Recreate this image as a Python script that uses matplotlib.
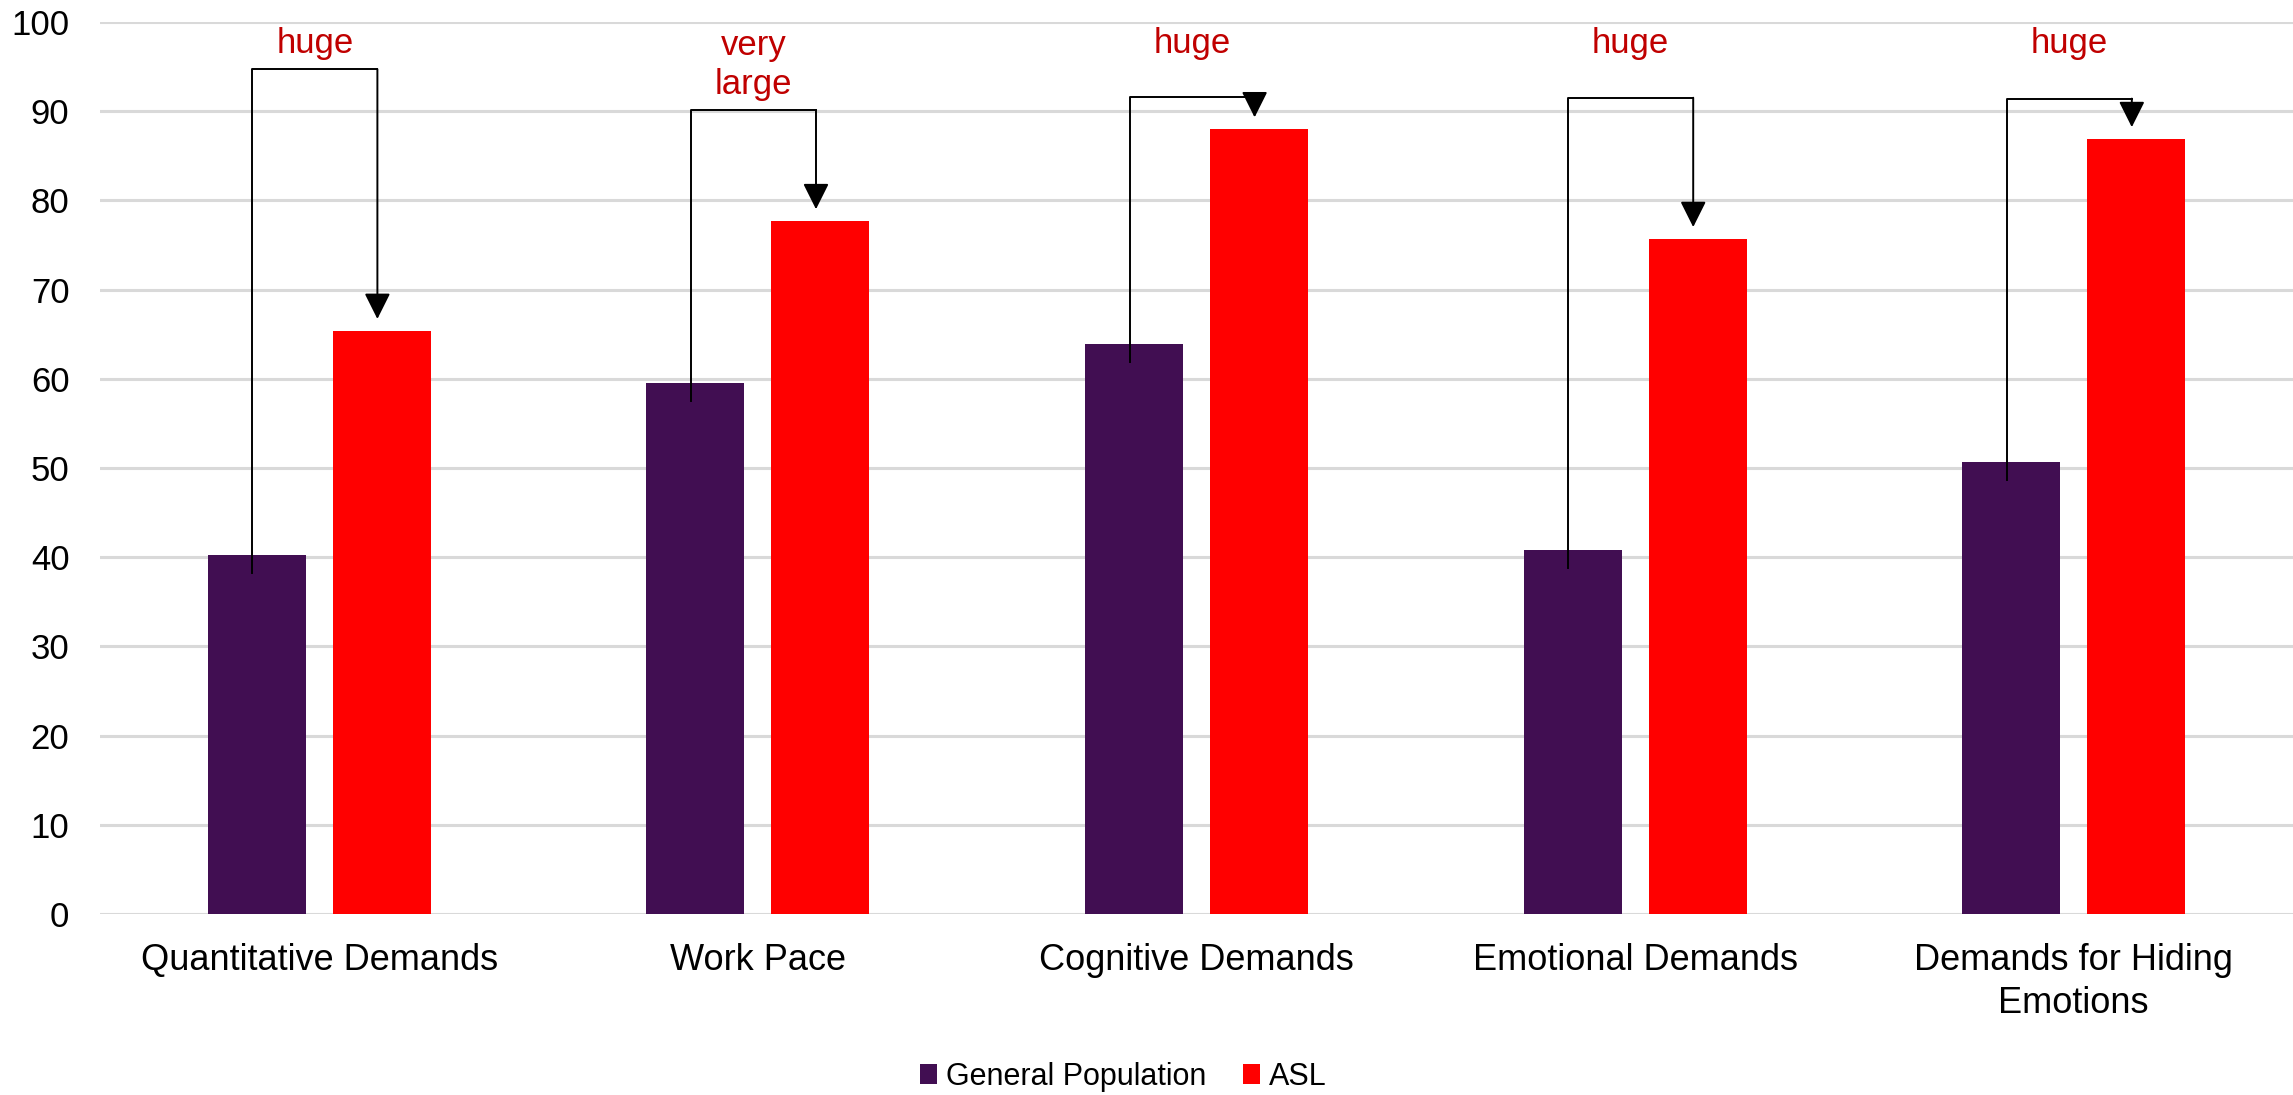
import matplotlib.pyplot as plt
import numpy as np

# data
categories = ["Quantitative Demands", "Work Pace", "Cognitive Demands",
              "Emotional Demands", "Demands for Hiding\nEmotions"]
general_pop = [40.2, 59.5, 63.9, 40.8, 50.7]
asl = [65.4, 77.7, 88.0, 75.7, 86.9]
effect_labels = ["huge", "very\nlarge", "huge", "huge", "huge"]
bracket_tops = [94.7, 90.1, 91.6, 91.5, 91.4]
label_y = [97.6, 95.2, 97.6, 97.6, 97.6]

plt.rcParams['font.family'] = ['Liberation Sans', 'DejaVu Sans']

fig = plt.figure(figsize=(22.93, 10.95), dpi=100)
ax = fig.add_axes([0.0436, 0.1653, 0.9564, 0.8147])

x = np.arange(len(categories))
w = 0.2235
off = 0.1425
ax.bar(x - off, general_pop, w, color='#410E52', label='General Population', zorder=2)
ax.bar(x + off, asl, w, color='#FF0000', label='ASL', zorder=2)

# brackets with arrows
for i in range(len(categories)):
    x0, x1 = x[i] - off - 0.01, x[i] + off - 0.01
    top = bracket_tops[i]
    ax.plot([x0, x0, x1], [general_pop[i] - 2, top, top], color='black', lw=1.4, zorder=3)
    ax.annotate('', xy=(x1, asl[i] + 1.3), xytext=(x1, top),
                arrowprops=dict(arrowstyle='-|>,head_length=0.8,head_width=0.4',
                                mutation_scale=20, color='black', lw=1.4,
                                shrinkA=0, shrinkB=0), zorder=3)
    ax.text(x[i] - 0.01, label_y[i], effect_labels[i], color='#C00000', fontsize=25,
            ha='center', va='center', linespacing=1.24)

ax.set_xlim(-0.5, len(categories) - 0.5)
ax.set_ylim(0, 100)
ax.set_yticks(range(0, 101, 10))
ax.set_xticks(x)
ax.set_xticklabels(categories, fontsize=26, linespacing=1.3)
ax.tick_params(axis='x', length=0, pad=21)
ax.tick_params(axis='y', length=0, pad=22, labelsize=25)
ax.yaxis.grid(True, color='#D9D9D9', lw=2.2, zorder=0)
ax.set_axisbelow(True)
for s in ax.spines.values():
    s.set_visible(False)

fig.legend(loc='lower center', bbox_to_anchor=(0.49, -0.022), ncol=2, frameon=False,
           fontsize=22, handlelength=0.55, handleheight=0.62, handletextpad=0.3,
           columnspacing=1.2)

plt.savefig('out.png', dpi=100)
